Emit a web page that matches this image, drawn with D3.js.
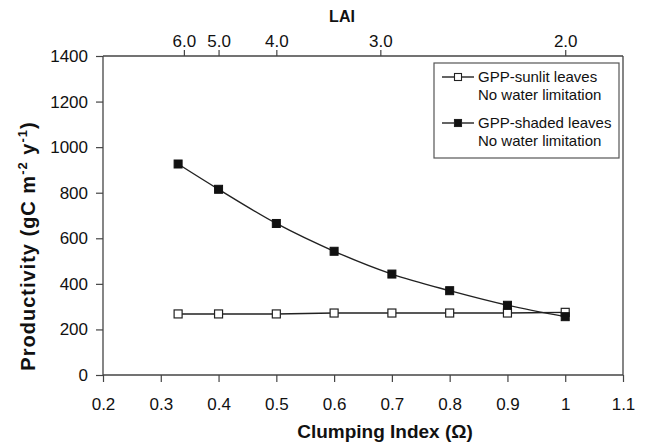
<!DOCTYPE html>
<html>
<head>
<meta charset="utf-8">
<script src="https://cdn.jsdelivr.net/npm/d3@7"></script>
<style>
  body { margin: 0; background: #fff; }
  text { font-family: "Liberation Sans", Arial, sans-serif; fill: #111; }
</style>
</head>
<body>
<div id="chart"></div>
<script>
// data
var clumping = [0.33, 0.4, 0.5, 0.6, 0.7, 0.8, 0.9, 1.0];
var gppSunlit = [268, 268, 268, 272, 272, 272, 272, 275];
var gppShaded = [926, 815, 665, 543, 443, 370, 306, 256];

var xTicks = [0.2, 0.3, 0.4, 0.5, 0.6, 0.7, 0.8, 0.9, 1, 1.1];
var yTicks = [0, 200, 400, 600, 800, 1000, 1200, 1400];
var laiLabels = ["6.0", "5.0", "4.0", "3.0", "2.0"];
var laiAt = [0.34, 0.40, 0.50, 0.68, 1.0]; // clumping index under each LAI tick

var seriesNames = [
  ["GPP-sunlit leaves", "No water limitation"],
  ["GPP-shaded leaves", "No water limitation"]
];

var W = 647, H = 443;
var margin = {left: 103, right: 24, top: 56, bottom: 68};

var svg = d3.select("#chart").append("svg")
  .attr("width", W).attr("height", H);

var x = d3.scaleLinear().domain([0.2, 1.1]).range([margin.left, W - margin.right]);
var y = d3.scaleLinear().domain([0, 1400]).range([H - margin.bottom, margin.top]);

var axisColor = "#444";

// frame (right side)
svg.append("line")
  .attr("x1", x(1.1)).attr("x2", x(1.1))
  .attr("y1", y(0)).attr("y2", y(1400))
  .attr("stroke", axisColor).attr("stroke-width", 1.3);

// bottom axis
var xAxisG = svg.append("g")
  .attr("transform", "translate(0," + y(0) + ")")
  .call(d3.axisBottom(x).tickValues(xTicks).tickSize(7).tickPadding(16)
    .tickFormat(function(d){ return d === 1 ? "1" : d3.format(".1f")(d); }));

// left axis
var yAxisG = svg.append("g")
  .attr("transform", "translate(" + x(0.2) + ",0)")
  .call(d3.axisLeft(y).tickValues(yTicks).tickSize(7).tickPadding(8)
    .tickFormat(d3.format("d")));

// top LAI axis
var laiAxisG = svg.append("g")
  .attr("transform", "translate(0," + y(1400) + ")")
  .call(d3.axisTop(x).tickValues(laiAt).tickSize(6).tickPadding(3)
    .tickFormat(function(d, i){ return laiLabels[i]; }));

[xAxisG, yAxisG, laiAxisG].forEach(function(g){
  g.select(".domain").attr("stroke", axisColor).attr("stroke-width", 1.3);
  g.selectAll(".tick line").attr("stroke", axisColor).attr("stroke-width", 1.2);
  g.selectAll(".tick text")
    .attr("font-family", "Liberation Sans, Arial, sans-serif")
    .attr("font-size", 17).attr("fill", "#111");
});
laiAxisG.select(".domain").attr("d", "M" + x(0.2) + ",0H" + x(1.1));
xAxisG.select(".domain").attr("d", "M" + x(0.2) + ",0H" + x(1.1));
yAxisG.select(".domain").attr("d", "M0," + y(0) + "V" + y(1400));

// axis titles
svg.append("text")
  .attr("x", 385).attr("y", 438)
  .attr("text-anchor", "middle")
  .attr("font-size", 19).attr("font-weight", "bold")
  .text("Clumping Index (\u03A9)");

svg.append("text")
  .attr("x", 342).attr("y", 22)
  .attr("text-anchor", "middle")
  .attr("font-size", 16).attr("font-weight", "bold")
  .text("LAI");

var yt = svg.append("text")
  .attr("transform", "translate(35," + 246 + ") rotate(-90)")
  .attr("text-anchor", "middle")
  .attr("font-size", 20).attr("font-weight", "bold")
  .attr("letter-spacing", 1);
yt.append("tspan").text("Productivity (gC m");
yt.append("tspan").attr("dy", -8).attr("font-size", 13).text("-2");
yt.append("tspan").attr("dy", 8).text(" y");
yt.append("tspan").attr("dy", -8).attr("font-size", 13).text("-1");
yt.append("tspan").attr("dy", 8).text(")");

// lines
var line = d3.line()
  .x(function(d){ return x(d[0]); })
  .y(function(d){ return y(d[1]); })
  .curve(d3.curveCatmullRom.alpha(0.5));

var sunlitPts = clumping.map(function(c, i){ return [c, gppSunlit[i]]; });
var shadedPts = clumping.map(function(c, i){ return [c, gppShaded[i]]; });

svg.append("path").datum(sunlitPts)
  .attr("d", line).attr("fill", "none")
  .attr("stroke", "#222").attr("stroke-width", 1.4);
svg.append("path").datum(shadedPts)
  .attr("d", line).attr("fill", "none")
  .attr("stroke", "#222").attr("stroke-width", 1.4);

var ms = 8;
svg.selectAll(".sq-sunlit").data(sunlitPts).enter().append("rect")
  .attr("x", function(d){ return x(d[0]) - ms / 2; })
  .attr("y", function(d){ return y(d[1]) - ms / 2; })
  .attr("width", ms).attr("height", ms)
  .attr("fill", "#fff").attr("stroke", "#222").attr("stroke-width", 1.2);
svg.selectAll(".sq-shaded").data(shadedPts).enter().append("rect")
  .attr("x", function(d){ return x(d[0]) - ms / 2; })
  .attr("y", function(d){ return y(d[1]) - ms / 2; })
  .attr("width", ms).attr("height", ms)
  .attr("fill", "#111").attr("stroke", "#111").attr("stroke-width", 1);

// legend
var lg = svg.append("g");
lg.append("rect")
  .attr("x", 434).attr("y", 63).attr("width", 185).attr("height", 95)
  .attr("fill", "#fff").attr("stroke", "#555").attr("stroke-width", 1.2);

seriesNames.forEach(function(names, i){
  var cy = 77 + i * 46;
  lg.append("line")
    .attr("x1", 442).attr("x2", 474).attr("y1", cy).attr("y2", cy)
    .attr("stroke", "#222").attr("stroke-width", 1.4);
  lg.append("rect")
    .attr("x", 458 - 3.5).attr("y", cy - 3.5).attr("width", 7).attr("height", 7)
    .attr("fill", i === 0 ? "#fff" : "#111").attr("stroke", "#222").attr("stroke-width", 1.1);
  lg.append("text").attr("x", 478).attr("y", cy + 5)
    .attr("font-size", 15).text(names[0]);
  lg.append("text").attr("x", 478).attr("y", cy + 23)
    .attr("font-size", 15).text(names[1]);
});
</script>
</body>
</html>
